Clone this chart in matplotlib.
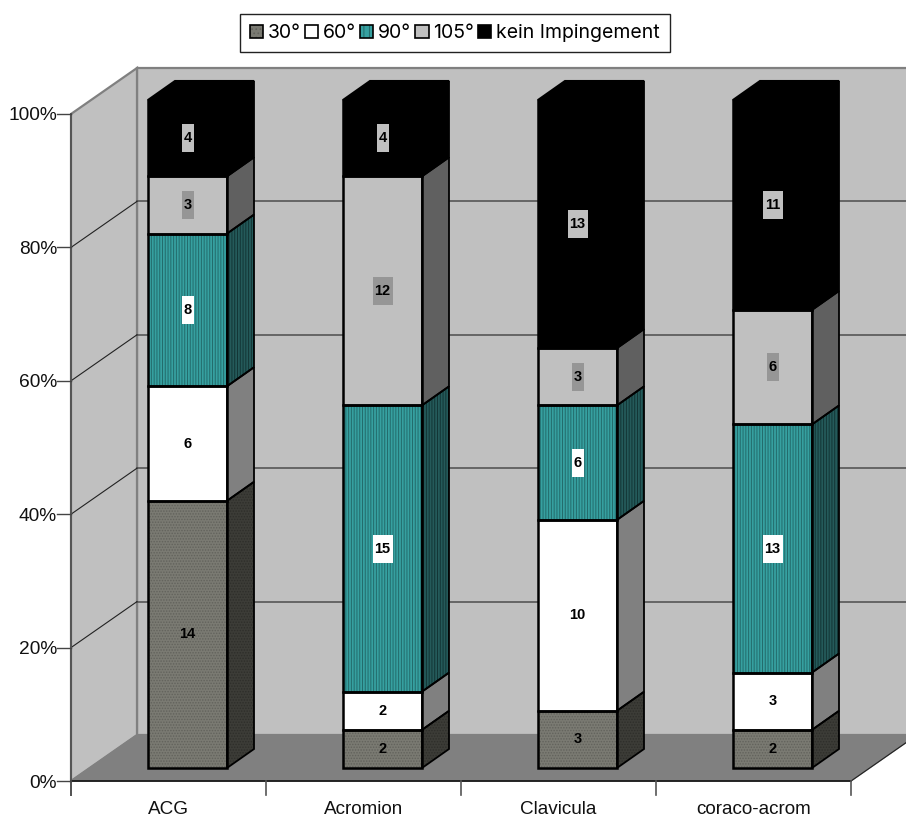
import matplotlib
matplotlib.use('Agg')
import numpy as np
import matplotlib.pyplot as plt
from matplotlib.patches import Patch, Polygon, Rectangle
from matplotlib.legend_handler import HandlerTuple

##################################################
# Data
##################################################
categories = ['ACG', 'Acromion', 'Clavicula', 'coraco-acrom']
series_names = ['30°', '60°', '90°', '105°', 'kein Impingement']
counts_30 = [14, 2, 3, 2]
counts_60 = [6, 2, 10, 3]
counts_90 = [8, 15, 6, 13]
counts_105 = [3, 12, 3, 6]
counts_none = [4, 4, 13, 11]
pct_ticks = [0, 20, 40, 60, 80, 100]

counts = np.array([counts_30, counts_60, counts_90, counts_105, counts_none], dtype=float)
shares = counts / counts.sum(axis=0) * 100
cum = np.vstack([np.zeros(4), np.cumsum(shares, axis=0)])

##################################################
# Styles
##################################################
front = ['#7a7a72', '#ffffff', '#36a0a0', '#c0c0c0', '#000000']
side = ['#3c3c37', '#808080', '#245a5a', '#606060', '#000000']
front_hatch = ['#62625c', None, '#236b6b', None, None]
side_hatch = ['#2e2e2a', None, '#133535', None, None]
patterns = ['......', None, '||||||', None, None]
label_bg = [None, None, '#ffffff', '#969696', '#c0c0c0']

plt.rcParams['hatch.linewidth'] = 0.7
plt.rcParams['font.family'] = ['Liberation Sans']

fig = plt.figure(figsize=(9.06, 8.21), dpi=100)
ax = fig.add_axes([0, 0, 1, 1])
ax.set_xlim(0, 906)
ax.set_ylim(821, 0)
ax.axis('off')

# chart box in pixels: front plane, depth offset of the walls
x0, y0, y100 = 71, 781, 114
dx, dy = 66, -46
step = 195
wall_r = x0 + 4 * step + dx

def ypos(p):
    return y0 + (y100 - y0) * p / 100.0

##################################################
# Walls, floor, grid
##################################################
ax.add_patch(Polygon([(x0 + dx, y100 + dy), (wall_r, y100 + dy), (wall_r, y0 + dy), (x0 + dx, y0 + dy)],
                     fc='#c0c0c0', ec='#808080', lw=1.6, zorder=1))
ax.add_patch(Polygon([(x0, y100), (x0 + dx, y100 + dy), (x0 + dx, y0 + dy), (x0, y0)],
                     fc='#c0c0c0', ec='#808080', lw=1.6, zorder=1))
ax.add_patch(Polygon([(x0, y0), (x0 + dx, y0 + dy), (wall_r, y0 + dy), (x0 + 4 * step, y0)],
                     fc='#808080', ec='#808080', lw=1, zorder=1))

for p in pct_ticks[1:-1]:
    ax.plot([x0 + dx, wall_r], [ypos(p) + dy] * 2, color='#4d4d4d', lw=1.1, zorder=2)
    ax.plot([x0, x0 + dx], [ypos(p), ypos(p) + dy], color='#222222', lw=0.8, zorder=2)

# axis lines and ticks
ax.plot([x0, x0], [y100, y0 + 14], color='#555555', lw=1.4, zorder=3)
ax.plot([x0, x0 + 4 * step], [y0, y0], color='#111111', lw=1.2, zorder=3)
ax.plot([x0 + 4 * step, x0 + 4 * step + dx], [y0, y0 + dy], color='#222222', lw=0.8, zorder=3)
for i in range(5):
    ax.plot([x0 + i * step] * 2, [y0, y0 + 14], color='#555555', lw=1.2, zorder=3)
for p in pct_ticks:
    ax.plot([x0 - 14, x0], [ypos(p)] * 2, color='#444444', lw=1.0, zorder=3)
    ax.text(x0 - 14, ypos(p) + 2, '%d%%' % p, ha='right', va='center', fontsize=13.8, color='#111111')
for i, name in enumerate(categories):
    ax.text(x0 + (i + 0.5) * step, 809, name, ha='center', va='center', fontsize=13.6, color='#111111')

##################################################
# Stacked bars
##################################################
bar_left, bar_w = 148, 79
bar_dx, bar_dy = 27, -19
bar_y0, bar_y100 = 768, 100

def bar_y(p):
    return bar_y0 + (bar_y100 - bar_y0) * p / 100.0

for c in range(4):
    xl = bar_left + c * step
    xr = xl + bar_w
    for s in range(5):
        yb, yt = bar_y(cum[s, c]), bar_y(cum[s + 1, c])
        face_pts = [(xl, yb), (xr, yb), (xr, yt), (xl, yt)]
        side_pts = [(xr, yb), (xr + bar_dx, yb + bar_dy), (xr + bar_dx, yt + bar_dy), (xr, yt)]
        if patterns[s]:
            ax.add_patch(Polygon(face_pts, fc=front[s], ec=front_hatch[s], hatch=patterns[s], lw=0, zorder=4))
            ax.add_patch(Polygon(side_pts, fc=side[s], ec=side_hatch[s], hatch=patterns[s], lw=0, zorder=4))
        else:
            ax.add_patch(Polygon(face_pts, fc=front[s], lw=0, zorder=4))
            ax.add_patch(Polygon(side_pts, fc=side[s], lw=0, zorder=4))
        ax.add_patch(Polygon(face_pts, fc='none', ec='black', lw=1.8, zorder=5))
        ax.add_patch(Polygon(side_pts, fc='none', ec='black', lw=1.3, zorder=5))
    # lid of the stack
    yt = bar_y(100)
    ax.add_patch(Polygon([(xl, yt), (xr, yt), (xr + bar_dx, yt + bar_dy), (xl + bar_dx, yt + bar_dy)],
                         fc='black', ec='black', lw=1.5, zorder=5))
    # value labels
    for s in range(5):
        ym = bar_y((cum[s, c] + cum[s + 1, c]) / 2.0)
        txt = '%d' % counts[s, c]
        if label_bg[s]:
            w = 20 if len(txt) > 1 else 12
            ax.add_patch(Rectangle(((xl + xr) / 2.0 - w / 2.0, ym - 14), w, 28, fc=label_bg[s], ec='none', zorder=6))
        ax.text((xl + xr) / 2.0, ym, txt, ha='center', va='center', fontsize=10.5,
                fontweight='bold', color='black', zorder=7)

##################################################
# Legend
##################################################
handles = []
for s in range(5):
    if patterns[s]:
        handles.append((Patch(fc=front[s], ec=front_hatch[s], hatch='|||' if s == 2 else '....', lw=0),
                        Patch(fc='none', ec='black', lw=1.2)))
    else:
        handles.append((Patch(fc=front[s], ec='black', lw=1.2),))

leg = ax.legend(handles, series_names, ncol=5, loc='center', bbox_to_anchor=(455 / 906, 1 - 33 / 821),
                handler_map={tuple: HandlerTuple(ndivide=1, pad=0)}, frameon=True, fancybox=False,
                edgecolor='#222222', framealpha=1, prop={'family': 'Inter', 'size': 14},
                handlelength=0.68, handleheight=0.68, handletextpad=0.25, columnspacing=0.2,
                borderpad=0.5, borderaxespad=0)
leg.get_frame().set_linewidth(1.0)
leg.set_zorder(10)

plt.savefig('out.png', dpi=100)
